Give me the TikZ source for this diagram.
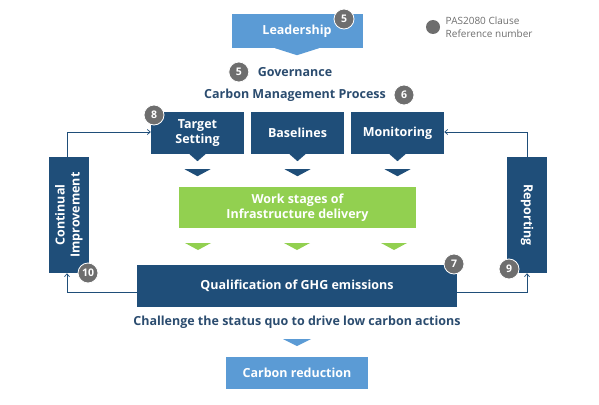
\documentclass[tikz,border=0pt]{standalone}
\usepackage{fontspec}
\setmainfont{Open Sans}
\usetikzlibrary{arrows.meta,positioning,calc}
\definecolor{darkblue}{HTML}{1F4E79}
\definecolor{lightblue}{HTML}{5B9BD5}
\definecolor{leafgreen}{HTML}{92D050}
\definecolor{badgegray}{HTML}{6E6E6E}
\definecolor{titleblue}{HTML}{2B4C6F}
\newcommand{\pointer}[4]{% anchor, vertical offset, colour, half width
  \fill[#3] ($(#1)+(-#4,#2)$) -- ($(#1)+(#4,#2)$) -- ($(#1)+(0,#2+7)$) -- cycle;}

\begin{document}
\begin{tikzpicture}[x=1pt, y=-1pt, font=\fontsize{12.5}{15}\selectfont\bfseries,
    darkbox/.style={fill=darkblue, text=white, inner sep=0pt, align=center},
    lightbox/.style={fill=lightblue, text=white, inner sep=0pt},
    badge/.style={circle, fill=badgegray, draw=white, line width=0.8pt, text=white,
                  minimum size=20pt, inner sep=0pt, font=\fontsize{10.5}{12}\selectfont\bfseries},
    title/.style={text=titleblue},
    loop/.style={darkblue, line width=0.7pt, -{Straight Barb[length=3pt,width=5pt]}}]
\useasboundingbox (0,0) rectangle (599,404);

% top
\node[lightbox, minimum width=131pt, minimum height=34pt] (lead) at (297,31) {Leadership};
\pointer{lead.south}{0}{lightblue}{22}
\node[badge] (b5a) at (344,19) {5};
\node[circle, fill=badgegray, minimum size=14pt, inner sep=0pt] (legdot) at (433,27) {};
\node[right=2pt of legdot, text=badgegray, align=left, font=\fontsize{10}{13}\selectfont] (leg) {PAS2080 Clause\\Reference number};

\node[title] (gov) at (295,72) {Governance};
\node[badge, left=5pt of gov] (b5b) {5};
\node[title] (cmp) at (295,95) {Carbon Management Process};
\node[badge] (b6) at (404,95) {6};

% process boxes
\node[darkbox, minimum width=93pt, minimum height=42pt] (target) at (197.5,133) {Target\\Setting};
\node[darkbox, minimum width=93pt, minimum height=42pt] (base) at (297.5,133) {Baselines};
\node[darkbox, minimum width=93pt, minimum height=42pt] (mon) at (397.5,133) {Monitoring};
\node[badge] (b8) at (154,115) {8};
\foreach \n in {target,base,mon} {
  \pointer{\n.south}{0}{darkblue}{8}
  \pointer{\n.south}{15}{darkblue}{13}
}

\node[fill=leafgreen, text=white, align=center, inner sep=0pt,
      minimum width=237pt, minimum height=41pt] (work) at (297.5,207.5)
      {Work stages of\\Infrastructure delivery};
\foreach \x in {198,297,394} {
  \pointer{\x,243}{0}{leafgreen}{13}
}

\node[darkbox, minimum width=320pt, minimum height=42pt] (ghg) at (297,286) {Qualification of GHG emissions};
\node[badge] (b7) at (454,264) {7};

% side loop
\node[darkbox, minimum width=116pt, minimum height=40pt, rotate=90] (cont) at (69,215) {Continual\\Improvement};
\node[darkbox, minimum width=116pt, minimum height=40pt, rotate=-90] (rep) at (527,215) {Reporting};
\node[badge] (b10) at (88,273) {10};
\node[badge] (b9) at (509,269) {9};

\draw[loop] (ghg.west |- 0,292) -| (cont.west -| 67,0);
\draw[loop] (ghg.east |- 0,292) -| (rep.east);
\draw[loop] (cont.east -| 67,0) |- (target.west |- 0,132);
\draw[loop] (rep.west) |- (mon.east |- 0,132);

% bottom
\node[title] (chal) at (297,322) {Challenge the status quo to drive low carbon actions};
\pointer{297,339}{0}{lightblue}{14}
\node[lightbox, minimum width=142pt, minimum height=32pt] (red) at (297,373) {Carbon reduction};
\end{tikzpicture}
\end{document}
